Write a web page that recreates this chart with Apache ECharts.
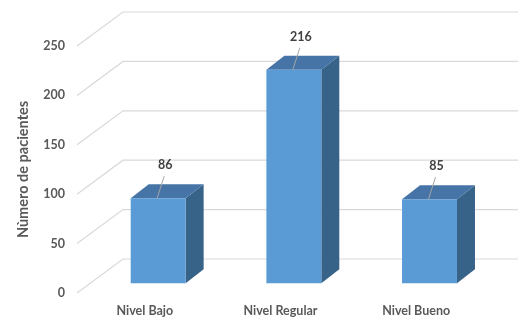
<!DOCTYPE html>
<html>
<head>
    <meta charset="utf-8" />
    <title></title>
    <script src="https://cdn.jsdelivr.net/npm/echarts@6/dist/echarts.min.js"></script>
    <style>
        html, body { margin: 0; padding: 0; background: #fff; }
        #main { width: 518px; height: 320px; }
    </style>
</head>
<body>
    <div id="main"></div>
    <script type="text/javascript">
        // datos
        var categorias = ['Nivel Bajo', 'Nivel Regular', 'Nivel Bueno'];
        var pacientes = [86, 216, 85];
        var ticksY = [0, 50, 100, 150, 200, 250];

        // perspectiva del piso (px)
        var FONDO_DX = 46, FONDO_DY = -34;
        var FRENTE = 0.29;          // profundidad de la cara frontal de la barra
        var BARRA_DX = 18, BARRA_DY = -14;
        var fuente = 'Lato, "DejaVu Sans", sans-serif';

        var myChart = echarts.init(document.getElementById('main'));

        var option = {
            backgroundColor: '#ffffff',
            animation: false,
            grid: { left: 77, right: 34, top: 46, bottom: 27 },
            xAxis: {
                type: 'category',
                data: categorias,
                axisLine: { show: false },
                axisTick: { show: false },
                axisLabel: { margin: 11, color: '#595959', fontSize: 12.5, fontWeight: 'bold', fontFamily: fuente }
            },
            yAxis: {
                type: 'value',
                min: 0,
                max: 250,
                interval: 50,
                name: 'Nùmero de pacientes',
                nameLocation: 'middle',
                nameGap: 46,
                nameTextStyle: { color: '#595959', fontSize: 14.5, fontWeight: 'bold', fontFamily: fuente },
                axisLine: { show: false },
                axisTick: { show: false },
                splitLine: { show: false },
                axisLabel: { margin: 12, color: '#595959', fontSize: 12.5, fontWeight: 'bold', fontFamily: fuente }
            },
            series: [
                {
                    // lineas de la cuadricula (piso y pared de fondo)
                    type: 'custom',
                    z: 1,
                    silent: true,
                    data: ticksY.map(function (v) { return [0, v]; }),
                    renderItem: function (params, api) {
                        var cs = params.coordSys;
                        var y = api.coord([0, api.value(1)])[1];
                        var x0 = cs.x;
                        return {
                            type: 'polyline',
                            shape: { points: [[x0, y], [x0 + FONDO_DX, y + FONDO_DY], [cs.x + cs.width + FONDO_DX + 20, y + FONDO_DY]] },
                            style: { stroke: '#d9d9d9', lineWidth: 1.2, fill: null }
                        };
                    }
                },
                {
                    type: 'custom',
                    z: 5,
                    data: pacientes.map(function (v, i) { return [i, v]; }),
                    renderItem: function (params, api) {
                        var base = api.coord([api.value(0), 0]);
                        var tope = api.coord([api.value(0), api.value(1)]);
                        var w = api.size([1, 0])[0] * 0.405;
                        var ox = FRENTE * FONDO_DX, oy = FRENTE * FONDO_DY;
                        var xl = base[0] - w / 2 + ox, xr = xl + w;
                        var yt = tope[1] + oy, yb = base[1] + oy;
                        var cx = base[0] + ox;
                        return {
                            type: 'group',
                            children: [
                                {
                                    type: 'polygon',
                                    shape: { points: [[xr, yt], [xr + BARRA_DX, yt + BARRA_DY], [xr + BARRA_DX, yb + BARRA_DY], [xr, yb]] },
                                    style: { fill: '#386389' }
                                },
                                {
                                    type: 'polygon',
                                    shape: { points: [[xl, yt], [xr, yt], [xr + BARRA_DX, yt + BARRA_DY], [xl + BARRA_DX, yt + BARRA_DY]] },
                                    style: { fill: '#4674a6' }
                                },
                                {
                                    type: 'rect',
                                    shape: { x: xl, y: yt, width: w, height: yb - yt },
                                    style: { fill: '#5b9bd5' }
                                },
                                {
                                    type: 'line',
                                    shape: { x1: cx - 1, y1: yt, x2: cx + 6, y2: yt - 22 },
                                    style: { stroke: '#a6a6a6', lineWidth: 1 }
                                },
                                {
                                    type: 'text',
                                    x: cx + 7,
                                    y: yt - 33,
                                    style: {
                                        text: String(api.value(1)),
                                        align: 'center',
                                        verticalAlign: 'middle',
                                        fill: '#404040',
                                        fontSize: 12.5,
                                        fontWeight: 'bold',
                                        fontFamily: fuente
                                    }
                                }
                            ]
                        };
                    }
                }
            ]
        };
        myChart.setOption(option);
    </script>
</body>
</html>
